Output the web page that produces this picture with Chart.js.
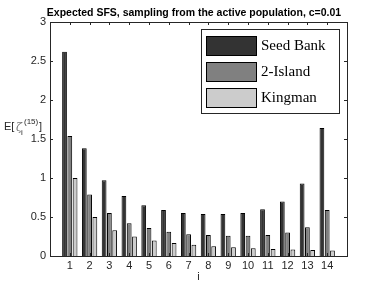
<!DOCTYPE html>
<html>
<head>
<meta charset="utf-8">
<script src="https://cdn.jsdelivr.net/npm/chart.js@4"></script>
<style>
  html, body { margin: 0; padding: 0; background: #fff; }
  #wrap { width: 384px; height: 288px; }
</style>
</head>
<body>
<div id="wrap"><canvas id="myChart" width="384" height="288"></canvas></div>
<script>
// values
var xTicks = ['1','2','3','4','5','6','7','8','9','10','11','12','13','14'];
var seedBank = [2.62, 1.38, 0.97, 0.77, 0.65, 0.59, 0.55, 0.54, 0.54, 0.55, 0.60, 0.70, 0.93, 1.64];
var twoIsland = [1.54, 0.79, 0.55, 0.42, 0.36, 0.31, 0.28, 0.27, 0.26, 0.26, 0.27, 0.30, 0.37, 0.59];
var kingman = [1.0, 0.5, 0.33, 0.25, 0.2, 0.167, 0.143, 0.125, 0.111, 0.1, 0.091, 0.083, 0.077, 0.071];
var yTicks = [0, 0.5, 1, 1.5, 2, 2.5, 3];
var titleText = 'Expected SFS, sampling from the active population, c=0.01';

// pad with an empty slot on each side so the axis runs 0..15 like matlab
function pad(arr) { return [null].concat(arr).concat([null]); }
var labels = [''].concat(xTicks).concat(['']);

var boxPlugin = {
  id: 'matlabBox',
  afterDraw: function(chart) {
    var c = chart.ctx, a = chart.chartArea;
    var xs = chart.scales.x, ys = chart.scales.y;
    c.save();
    c.strokeStyle = '#262626';
    c.lineWidth = 1;
    c.strokeRect(Math.round(a.left) + 0.5, Math.round(a.top) + 0.5,
      Math.round(a.right - a.left), Math.round(a.bottom - a.top));
    c.beginPath();
    for (var i = 1; i <= xTicks.length; i++) {
      var px = Math.round(xs.getPixelForValue(i)) + 0.5;
      c.moveTo(px, a.bottom); c.lineTo(px, a.bottom - 3);
      c.moveTo(px, a.top); c.lineTo(px, a.top + 3);
    }
    yTicks.forEach(function(v) {
      var py = Math.round(ys.getPixelForValue(v)) + 0.5;
      c.moveTo(a.left, py); c.lineTo(a.left + 3, py);
      c.moveTo(a.right, py); c.lineTo(a.right - 3, py);
    });
    c.stroke();

    // title
    c.fillStyle = '#000';
    c.font = 'bold 10.5px "Liberation Sans", Arial, sans-serif';
    c.textAlign = 'center';
    c.textBaseline = 'middle';
    c.fillText(titleText, 194, 13);

    // x label
    c.fillStyle = '#262626';
    c.font = '11px "Liberation Sans", Arial, sans-serif';
    c.fillText('i', (a.left + a.right) / 2, 277);

    // y label  E[ zeta_i^(15) ]
    c.textAlign = 'left';
    c.font = '11px "Liberation Sans", Arial, sans-serif';
    c.fillText('E[', 4, 127);
    c.fillStyle = '#777';
    c.font = 'italic 11px "DejaVu Serif", serif';
    c.fillText('\u03b6', 16, 128);
    c.fillStyle = '#262626';
    c.font = '8px "Liberation Sans", Arial, sans-serif';
    c.fillText('(15)', 24, 122);
    c.fillText('i', 21, 133);
    c.font = '11px "Liberation Sans", Arial, sans-serif';
    c.fillText(']', 39, 127);

    // legend inside the axes, top right
    var lx = 201, ly = 29, lw = 138, lh = 84;
    c.fillStyle = '#fff';
    c.fillRect(lx, ly, lw, lh);
    c.strokeStyle = '#262626';
    c.strokeRect(lx + 0.5, ly + 0.5, lw, lh);
    chart.data.datasets.forEach(function(ds, k) {
      var sy = 36 + k * 26;
      c.fillStyle = ds.backgroundColor;
      c.fillRect(206, sy, 50, 19);
      c.strokeStyle = '#000';
      c.strokeRect(206.5, sy + 0.5, 50, 19);
      c.fillStyle = '#000';
      c.font = '15px "Liberation Serif", "DejaVu Serif", serif';
      c.textBaseline = 'middle';
      c.fillText(ds.label, 261, sy + 10);
    });
    c.restore();
  }
};

var ctx = document.getElementById('myChart').getContext('2d');
var myChart = new Chart(ctx, {
  type: 'bar',
  data: {
    labels: labels,
    datasets: [{
      label: 'Seed Bank',
      data: pad(seedBank),
      backgroundColor: '#333333',
      borderColor: '#000000',
      borderWidth: 1
    }, {
      label: '2-Island',
      data: pad(twoIsland),
      backgroundColor: '#808080',
      borderColor: '#000000',
      borderWidth: 1
    }, {
      label: 'Kingman',
      data: pad(kingman),
      backgroundColor: '#cccccc',
      borderColor: '#000000',
      borderWidth: 1
    }]
  },
  options: {
    responsive: false,
    animation: false,
    layout: { padding: { left: 0, right: 37, top: 22, bottom: 0 } },
    plugins: {
      legend: { display: false },
      title: { display: false },
      tooltip: { enabled: false }
    },
    scales: {
      x: {
        offset: false,
        grid: { display: false, drawTicks: false, tickLength: 0 },
        border: { display: false },
        ticks: {
          autoSkip: false,
          maxRotation: 0,
          padding: 3,
          color: '#262626',
          font: { family: '"Liberation Sans", Arial, sans-serif', size: 11 }
        },
        categoryPercentage: 0.8,
        barPercentage: 0.9,
        afterFit: function(s) { s.height = 32; }
      },
      y: {
        min: 0,
        max: 3,
        grid: { display: false, drawTicks: false, tickLength: 0 },
        border: { display: false },
        ticks: {
          stepSize: 0.5,
          padding: 4,
          color: '#262626',
          font: { family: '"Liberation Sans", Arial, sans-serif', size: 11 },
          callback: function(v) { return String(v); }
        },
        afterFit: function(s) { s.width = 50; }
      }
    }
  },
  plugins: [boxPlugin]
});
</script>
</body>
</html>
